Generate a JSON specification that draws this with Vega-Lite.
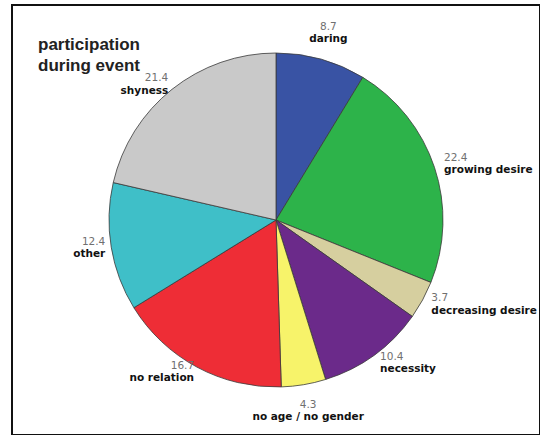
{
  "$schema": "https://vega.github.io/schema/vega-lite/v6.json",
  "width": 540,
  "height": 435,
  "autosize": {"type": "fit", "contains": "padding"},
  "padding": {"left": 12, "top": 5, "right": 0, "bottom": 0},
  "background": "white",
  "view": {"stroke": "#111", "strokeWidth": 2},
  "title": {
    "text": ["participation", "during event"],
    "anchor": "start",
    "frame": "group",
    "baseline": "top",
    "offset": -70,
    "dx": 26,
    "font": "Liberation Sans",
    "fontSize": 17,
    "fontWeight": "bold",
    "color": "#222",
    "lineHeight": 21
  },
  "data": {
    "values": [
      {"idx": 1, "category": "daring", "value": 8.7},
      {"idx": 2, "category": "growing desire", "value": 22.4},
      {"idx": 3, "category": "decreasing desire", "value": 3.7},
      {"idx": 4, "category": "necessity", "value": 10.4},
      {"idx": 5, "category": "no age / no gender", "value": 4.3},
      {"idx": 6, "category": "no relation", "value": 16.7},
      {"idx": 7, "category": "other", "value": 12.4},
      {"idx": 8, "category": "shyness", "value": 21.4}
    ]
  },
  "encoding": {
    "theta": {"field": "value", "type": "quantitative", "stack": true},
    "order": {"field": "idx", "type": "quantitative"},
    "color": {
      "field": "category",
      "type": "nominal",
      "scale": {
        "domain": ["daring", "growing desire", "decreasing desire", "necessity", "no age / no gender", "no relation", "other", "shyness"],
        "range": ["#3953a4", "#2db34a", "#d6cf9f", "#6b2a8a", "#f7f36a", "#ee2d36", "#3fbfc8", "#c9c9c9"]
      },
      "legend": null
    }
  },
  "layer": [
    {
      "mark": {"type": "arc", "outerRadius": 167, "stroke": "#3a3a3a", "strokeWidth": 0.8}
    },
    {
      "mark": {"type": "text", "radius": 177, "align": "left", "dy": -6.5, "font": "DejaVu Sans", "fontSize": 10.5},
      "encoding": {
        "text": {"condition": {"test": "indexof(['growing desire','decreasing desire','necessity'], datum.category) >= 0", "field": "value", "type": "quantitative", "format": ".1f"}, "value": ""},
        "color": {"value": "#707070"}
      }
    },
    {
      "mark": {"type": "text", "radius": 177, "align": "left", "dy": 6, "font": "DejaVu Sans", "fontSize": 10.5, "fontWeight": "bold"},
      "encoding": {
        "text": {"condition": {"test": "indexof(['growing desire','decreasing desire','necessity'], datum.category) >= 0", "field": "category", "type": "nominal"}, "value": ""},
        "color": {"value": "#111"}
      }
    },
    {
      "mark": {"type": "text", "radius": 173, "align": "right", "dy": -6.5, "font": "DejaVu Sans", "fontSize": 10.5},
      "encoding": {
        "text": {"condition": {"test": "indexof(['no relation','other','shyness'], datum.category) >= 0", "field": "value", "type": "quantitative", "format": ".1f"}, "value": ""},
        "color": {"value": "#707070"}
      }
    },
    {
      "mark": {"type": "text", "radius": 173, "align": "right", "dy": 6, "font": "DejaVu Sans", "fontSize": 10.5, "fontWeight": "bold"},
      "encoding": {
        "text": {"condition": {"test": "indexof(['no relation','other','shyness'], datum.category) >= 0", "field": "category", "type": "nominal"}, "value": ""},
        "color": {"value": "#111"}
      }
    },
    {
      "mark": {"type": "text", "radius": 194, "align": "center", "dy": -6.5, "font": "DejaVu Sans", "fontSize": 10.5},
      "encoding": {
        "text": {"condition": {"test": "indexof(['daring','no age / no gender'], datum.category) >= 0", "field": "value", "type": "quantitative", "format": ".1f"}, "value": ""},
        "color": {"value": "#707070"}
      }
    },
    {
      "mark": {"type": "text", "radius": 194, "align": "center", "dy": 6, "font": "DejaVu Sans", "fontSize": 10.5, "fontWeight": "bold"},
      "encoding": {
        "text": {"condition": {"test": "indexof(['daring','no age / no gender'], datum.category) >= 0", "field": "category", "type": "nominal"}, "value": ""},
        "color": {"value": "#111"}
      }
    }
  ]
}
